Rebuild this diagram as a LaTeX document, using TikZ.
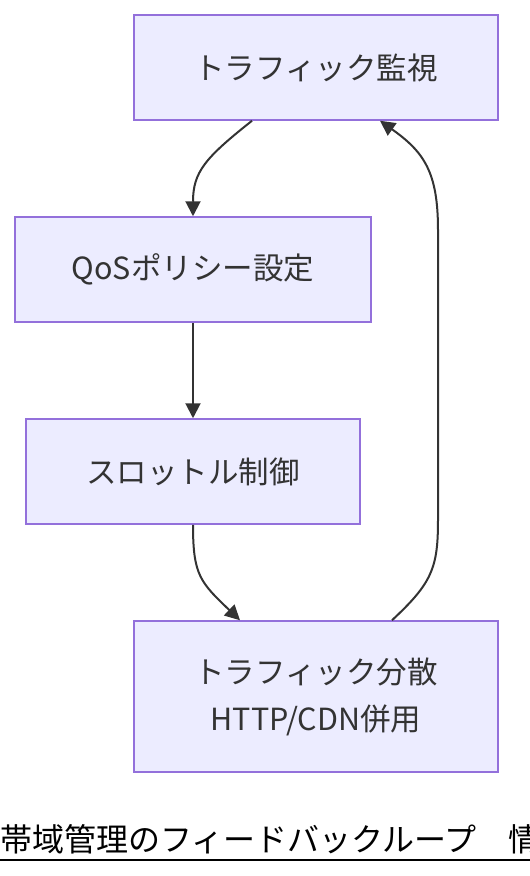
\documentclass[tikz,border=0pt]{standalone}
\usepackage{fontspec}
\setmainfont{Noto Sans CJK JP}
\usetikzlibrary{arrows.meta,calc}
\definecolor{nodefill}{HTML}{ECECFF}
\definecolor{nodeline}{HTML}{9370DB}
\definecolor{txt}{HTML}{333333}
\tikzset{
  box/.style={draw=nodeline, fill=nodefill, line width=1.5pt, rectangle, inner sep=0pt,
    text=txt, font=\fontsize{30.5}{47}\selectfont, align=center},
  link/.style={draw=txt, line width=2pt, -{Triangle[length=15pt,width=15pt]}},
}
\begin{document}
\begin{tikzpicture}[x=1pt,y=-1pt]
\useasboundingbox (0,0) rectangle (530,876);
\clip (0,0) rectangle (530,876);
\node[box, minimum width=364pt, minimum height=105pt] (A) at (316,67.5) {トラフィック監視};
\node[box, minimum width=356pt, minimum height=105pt] (B) at (193,269.5) {QoSポリシー設定};
\node[box, minimum width=334pt, minimum height=105pt] (C) at (193,471.5) {スロットル制御};
\node[box, minimum width=364pt, minimum height=151pt] (D) at (316,696.5) {トラフィック分散\\HTTP/CDN併用};
\coordinate (a1) at ([xshift=-64pt]A.south);
\coordinate (a2) at ([xshift=64pt]A.south);
\coordinate (d1) at ([xshift=-76pt]D.north);
\coordinate (d2) at ([xshift=76pt]D.north);
\draw[link] (a1) .. controls (205,158) and (193,172) .. (B.north);
\draw[link] (B.south) -- (C.north);
\draw[link] (C.south) .. controls (193,575) and (200,582) .. (d1);
\draw[link] (d2) .. controls (432,583) and (438,568) .. (438,520) -- (438,230) .. controls (438,172) and (424,152) .. (a2);
\node[anchor=base west, inner sep=0pt, text=black, font=\fontsize{32}{38}\selectfont] (T) at (0,851) {帯域管理のフィードバックループ　情};
\draw[black, line width=2pt] (0,860) -- (530,860);
\end{tikzpicture}
\end{document}
